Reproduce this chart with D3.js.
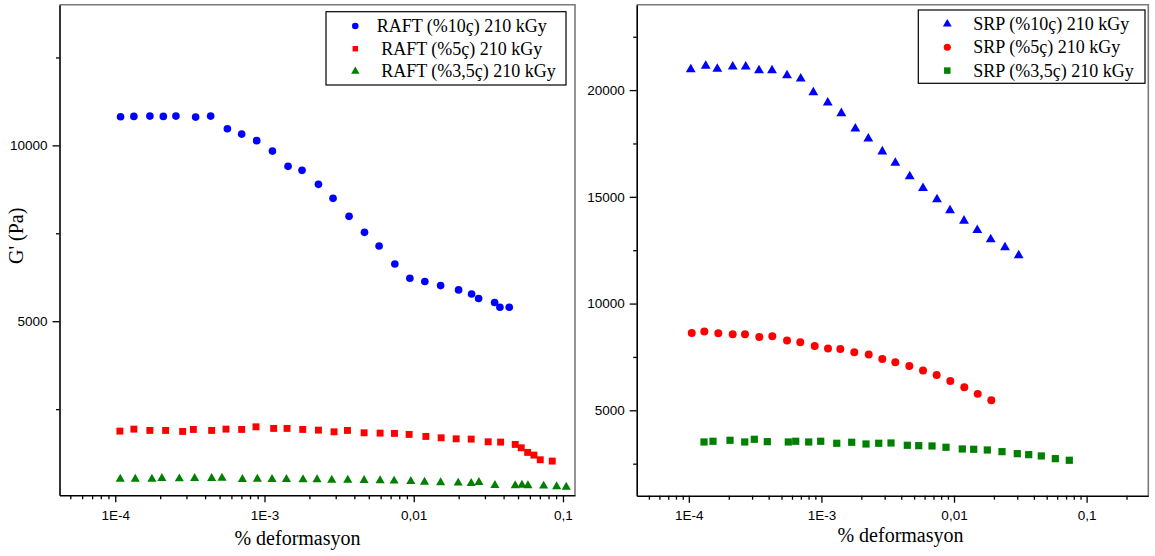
<!DOCTYPE html>
<html>
<head>
<meta charset="utf-8">
<script src="https://cdn.jsdelivr.net/npm/d3@7"></script>
<style>
  html, body { margin: 0; padding: 0; background: #fff; }
  svg { display: block; }
  .tick text { font-family: "Liberation Sans", Arial, sans-serif; font-size: 13.5px; fill: #000; }
  .title { font-family: "Liberation Serif", "Times New Roman", serif; font-size: 20px; fill: #000; }
  .legend text { font-family: "Liberation Serif", "Times New Roman", serif; font-size: 18px; fill: #000; white-space: pre; }
</style>
</head>
<body>
<svg id="chart" width="1155" height="556"></svg>
<script>
// Storage modulus G' (Pa) versus strain amplitude (% deformasyon)

// RAFT samples
const raft10Strain = [1.085e-4, 1.333e-4, 1.706e-4, 2.099e-4, 2.55e-4, 3.456e-4, 4.357e-4, 5.64e-4, 7.03e-4, 8.87e-4, 1.130e-3, 1.438e-3, 1.784e-3, 2.299e-3, 2.88e-3, 3.687e-3, 4.677e-3, 5.86e-3, 7.47e-3, 9.42e-3, 1.187e-2, 1.514e-2, 1.998e-2, 2.442e-2, 2.721e-2, 3.483e-2, 3.78e-2, 4.365e-2];
const raft10G = [10815, 10824, 10832, 10824, 10832, 10804, 10832, 10474, 10321, 10134, 9838, 9403, 9290, 8892, 8494, 7983, 7528, 7139, 6628, 6221, 6128, 6014, 5889, 5775, 5645, 5531, 5398, 5398];

const raft5Strain = [1.074e-4, 1.333e-4, 1.706e-4, 2.175e-4, 2.828e-4, 3.336e-4, 4.425e-4, 5.52e-4, 7.03e-4, 8.77e-4, 1.152e-3, 1.416e-3, 1.804e-3, 2.299e-3, 2.925e-3, 3.597e-3, 4.649e-3, 5.953e-3, 7.43e-3, 9.315e-3, 1.206e-2, 1.527e-2, 1.925e-2, 2.427e-2, 3.155e-2, 3.821e-2, 4.787e-2, 5.252e-2, 5.798e-2, 6.39e-2, 7.043e-2, 8.476e-2];
const raft5G = [1875, 1932, 1895, 1895, 1866, 1923, 1895, 1932, 1923, 1997, 1952, 1952, 1923, 1903, 1855, 1895, 1827, 1818, 1810, 1781, 1724, 1685, 1656, 1648, 1571, 1563, 1497, 1401, 1270, 1193, 1060, 1023];

const raft35Strain = [1.080e-4, 1.362e-4, 1.760e-4, 2.053e-4, 2.687e-4, 3.403e-4, 4.425e-4, 5.19e-4, 7.11e-4, 8.96e-4, 1.123e-3, 1.403e-3, 1.812e-3, 2.25e-3, 2.823e-3, 3.614e-3, 4.649e-3, 5.953e-3, 7.387e-3, 9.56e-3, 1.181e-2, 1.514e-2, 1.986e-2, 2.427e-2, 2.734e-2, 3.499e-2, 4.787e-2, 5.31e-2, 5.826e-2, 7.42e-2, 9.07e-2, 0.1052];
const raft35G = [513, 513, 513, 533, 523, 533, 533, 542, 505, 513, 505, 505, 496, 496, 485, 485, 476, 468, 457, 448, 428, 411, 400, 391, 420, 334, 326, 343, 326, 315, 298, 286];

// SRP samples
const srp10Strain = [1.034e-4, 1.341e-4, 1.640e-4, 2.143e-4, 2.686e-4, 3.383e-4, 4.241e-4, 5.503e-4, 6.98e-4, 8.69e-4, 1.116e-3, 1.413e-3, 1.802e-3, 2.258e-3, 2.879e-3, 3.609e-3, 4.634e-3, 5.837e-3, 7.44e-3, 9.33e-3, 1.19e-2, 1.498e-2, 1.891e-2, 2.424e-2, 3.075e-2];
const srp10G = [20971, 21130, 20990, 21098, 21098, 20925, 20925, 20691, 20536, 19895, 19413, 18913, 18197, 17729, 17121, 16592, 15951, 15403, 14875, 14360, 13878, 13438, 13003, 12629, 12254];

const srp5Strain = [1.052e-4, 1.309e-4, 1.669e-4, 2.143e-4, 2.653e-4, 3.401e-4, 4.263e-4, 5.503e-4, 6.93e-4, 8.90e-4, 1.121e-3, 1.389e-3, 1.771e-3, 2.274e-3, 2.879e-3, 3.609e-3, 4.602e-3, 5.837e-3, 7.40e-3, 9.38e-3, 1.196e-2, 1.509e-2, 1.911e-2];
const srp5G = [8624, 8690, 8610, 8564, 8564, 8437, 8470, 8269, 8189, 8016, 7894, 7876, 7721, 7614, 7408, 7253, 7080, 6865, 6659, 6378, 6084, 5770, 5475];

const srp35Strain = [1.302e-4, 1.522e-4, 2.045e-4, 2.640e-4, 3.119e-4, 3.908e-4, 5.628e-4, 6.40e-4, 8.02e-4, 9.88e-4, 1.305e-3, 1.692e-3, 2.169e-3, 2.705e-3, 3.349e-3, 4.444e-3, 5.418e-3, 6.826e-3, 8.70e-3, 1.155e-2, 1.408e-2, 1.783e-2, 2.301e-2, 3.001e-2, 3.659e-2, 4.553e-2, 5.808e-2, 7.404e-2];
const srp35G = [3517, 3550, 3596, 3517, 3643, 3531, 3517, 3550, 3517, 3550, 3456, 3503, 3423, 3456, 3470, 3362, 3344, 3330, 3269, 3189, 3175, 3142, 3063, 2969, 2923, 2862, 2735, 2660];

// Series names and axis ticks
const raftNames = ["RAFT (%10ç) 210 kGy", " RAFT (%5ç) 210 kGy", " RAFT (%3,5ç) 210 kGy"];
const srpNames = ["SRP (%10ç) 210 kGy", "SRP (%5ç) 210 kGy", "SRP (%3,5ç) 210 kGy"];
const strainTicks = [1e-4, 1e-3, 1e-2, 1e-1];
const strainTickLabels = ["1E-4", "1E-3", "0,01", "0,1"];
const leftGTicks = [5000, 10000];
const leftGMinor = [2500, 7500, 12500];
const rightGTicks = [5000, 10000, 15000, 20000];
const rightGMinor = [2500, 7500, 12500, 17500, 22500];
const xTitle = "% deformasyon";
const yTitle = "G' (Pa)";

const svg = d3.select("#chart");
svg.append("rect").attr("width", 1155).attr("height", 556).attr("fill", "#fff");

const FRAME_GREY = "#7a7a7a";

function panel(cfg) {
  const { left, right, top, bottom } = cfg.box;
  const x = d3.scaleLog().domain(cfg.xDomain).range([left, right]);
  const y = d3.scaleLinear().domain(cfg.yDomain).range([bottom, top]);
  const g = svg.append("g");

  // top and right frame
  g.append("path")
    .attr("d", `M${left},${top}H${right}V${bottom}`)
    .attr("fill", "none").attr("stroke", FRAME_GREY).attr("stroke-width", 1.6);

  // x axis: minor ticks then labelled major ticks
  const minorX = x.ticks().filter(v => !strainTicks.some(t => Math.abs(t - v) / t < 1e-6));
  g.append("g").attr("transform", `translate(0,${bottom})`)
    .call(d3.axisBottom(x).tickValues(minorX).tickSize(4).tickSizeOuter(0).tickFormat(""))
    .call(a => a.select(".domain").remove());
  g.append("g").attr("transform", `translate(0,${bottom})`)
    .call(d3.axisBottom(x).tickValues(strainTicks).tickSize(7).tickSizeOuter(0).tickPadding(8)
      .tickFormat((d, i) => strainTickLabels[i]))
    .call(a => a.select(".domain").attr("stroke-width", 1.6));

  // y axis
  g.append("g").attr("transform", `translate(${left},0)`)
    .call(d3.axisLeft(y).tickValues(cfg.yMinor).tickSize(3.5).tickSizeOuter(0).tickFormat(""))
    .call(a => a.select(".domain").remove());
  g.append("g").attr("transform", `translate(${left},0)`)
    .call(d3.axisLeft(y).tickValues(cfg.yTicks).tickSize(7).tickSizeOuter(0).tickPadding(5)
      .tickFormat(d3.format("d")))
    .call(a => a.select(".domain").attr("stroke-width", 1.6));

  g.selectAll(".tick line").attr("stroke-width", 1.3);
  g.selectAll(".tick text").attr("font-family", null).attr("font-size", null);

  // data points
  cfg.series.forEach(s => {
    const pts = s.xs.map((v, i) => [v, s.ys[i]]);
    g.append("g").selectAll("path").data(pts).join("path")
      .attr("transform", d => `translate(${x(d[0])},${y(d[1])})`)
      .attr("d", d3.symbol().type(s.shape).size(s.size)())
      .attr("fill", s.color);
  });

  // legend
  const lg = g.append("g").attr("class", "legend");
  lg.append("rect")
    .attr("x", cfg.legend.x).attr("y", cfg.legend.y)
    .attr("width", cfg.legend.w).attr("height", cfg.legend.h)
    .attr("fill", "#fff").attr("stroke", "#000").attr("stroke-width", 1.2);
  cfg.series.forEach((s, i) => {
    const cy = cfg.legend.y + cfg.legend.first + i * cfg.legend.step;
    lg.append("path")
      .attr("transform", `translate(${cfg.legend.symX},${cy})`)
      .attr("d", d3.symbol().type(s.shape).size(s.legendSize)())
      .attr("fill", s.color);
    lg.append("text")
      .attr("x", cfg.legend.textX).attr("y", cy + 6)
      .attr("xml:space", "preserve")
      .text(s.name);
  });

  // x title
  g.append("text").attr("class", "title")
    .attr("x", cfg.xTitleX).attr("y", cfg.xTitleY)
    .attr("text-anchor", "middle").text(xTitle);

  return { x, y, g };
}

panel({
  box: { left: 59.5, right: 575, top: 4.7, bottom: 495.3 },
  xDomain: [4.23e-5, 0.1204],
  yDomain: [50, 14000],
  yTicks: leftGTicks,
  yMinor: leftGMinor,
  series: [
    { xs: raft10Strain, ys: raft10G, shape: d3.symbolCircle, size: 46, legendSize: 34, color: "#0000ff", name: raftNames[0] },
    { xs: raft5Strain, ys: raft5G, shape: d3.symbolSquare, size: 48, legendSize: 30, color: "#ff0000", name: raftNames[1] },
    { xs: raft35Strain, ys: raft35G, shape: d3.symbolTriangle, size: 36, legendSize: 30, color: "#008000", name: raftNames[2] }
  ],
  legend: { x: 326, y: 11.7, w: 240, h: 73.3, first: 14.3, step: 22.7, symX: 355.3, textX: 376.7 },
  xTitleX: 297.5, xTitleY: 545
});

panel({
  box: { left: 636.7, right: 1148.3, top: 4.7, bottom: 495.7 },
  xDomain: [4.045e-5, 0.2919],
  yDomain: [1000, 24000],
  yTicks: rightGTicks,
  yMinor: rightGMinor,
  series: [
    { xs: srp10Strain, ys: srp10G, shape: d3.symbolTriangle, size: 42, legendSize: 34, color: "#0000ff", name: srpNames[0] },
    { xs: srp5Strain, ys: srp5G, shape: d3.symbolCircle, size: 50, legendSize: 40, color: "#ff0000", name: srpNames[1] },
    { xs: srp35Strain, ys: srp35G, shape: d3.symbolSquare, size: 52, legendSize: 42, color: "#008000", name: srpNames[2] }
  ],
  legend: { x: 918.3, y: 10, w: 226.7, h: 73.3, first: 14, step: 23.3, symX: 947.3, textX: 973.3 },
  xTitleX: 900.5, xTitleY: 542
});

// y title (left panel only)
svg.append("text").attr("class", "title")
  .attr("transform", "translate(23,235.8) rotate(-90)")
  .attr("text-anchor", "middle")
  .text(yTitle);
</script>
</body>
</html>
